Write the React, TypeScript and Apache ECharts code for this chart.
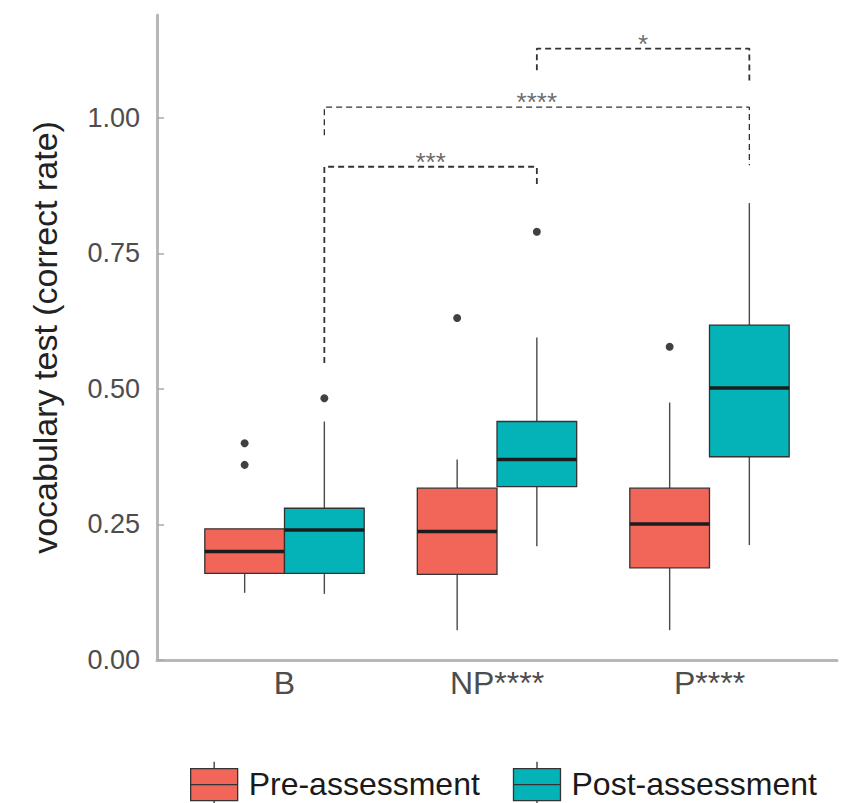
import React, { useEffect, useRef } from 'react';
import * as echarts from 'echarts';

const categories = ['B', 'NP****', 'P****'];
const seriesNames = ['Pre-assessment', 'Post-assessment'];
// [low whisker, Q1, median, Q3, high whisker]
const preBoxes = [
  [0.124, 0.16, 0.2, 0.242, 0.242],
  [0.055, 0.158, 0.237, 0.317, 0.37],
  [0.055, 0.17, 0.251, 0.317, 0.475],
];
const postBoxes = [
  [0.122, 0.16, 0.24, 0.28, 0.44],
  [0.21, 0.32, 0.37, 0.44, 0.595],
  [0.212, 0.375, 0.502, 0.618, 0.843],
];
// [category index, value]
const preOutliers = [[0, 0.4], [0, 0.36], [1, 0.631], [2, 0.578]];
const postOutliers = [[0, 0.483], [1, 0.79]];
const yTicks = [0, 0.25, 0.5, 0.75, 1];
const xTicks = [1, 2, 3];
// significance brackets between post-assessment boxes
const bracketFrom = [0, 0, 1];
const bracketTo = [1, 2, 2];
const bracketTop = [0.91, 1.02, 1.128];
const bracketLeftEnd = [0.548, 0.968, 1.088];
const bracketRightEnd = [0.871, 0.913, 1.065];
const bracketLabels = ['***', '****', '*'];
const bracketWidths = [1.8, 1.3, 1.8];

const RED = '#F2665A';
const TEAL = '#04B3B8';
const FONT = "'Liberation Sans', Arial, Helvetica, sans-serif";
const DODGE = 0.1875;
const BOXW = 0.375;

const legendIcon =
  'path://M23.5,0L23.5,7M0,7L47,7L47,39L0,39ZM0,23L47,23M23.5,39L23.5,44';

function boxData(stats: number[][], off: number) {
  return stats.map((s, i) => [i + 1 + off, ...s]);
}

function renderBox(params: any, api: any) {
  const x = api.value(0);
  const low = api.coord([x, api.value(1)]);
  const q1 = api.coord([x, api.value(2)]);
  const med = api.coord([x, api.value(3)]);
  const q3 = api.coord([x, api.value(4)]);
  const high = api.coord([x, api.value(5)]);
  const w = api.size([BOXW, 0])[0];
  const fill = api.visual('color');
  const whisker = { stroke: '#4a4a4a', lineWidth: 1.4 };
  return {
    type: 'group',
    children: [
      { type: 'line', shape: { x1: high[0], y1: high[1], x2: q3[0], y2: q3[1] }, style: whisker },
      { type: 'line', shape: { x1: q1[0], y1: q1[1], x2: low[0], y2: low[1] }, style: whisker },
      {
        type: 'rect',
        shape: { x: q3[0] - w / 2, y: q3[1], width: w, height: q1[1] - q3[1] },
        style: { fill, stroke: '#333', lineWidth: 1.3 },
      },
      {
        type: 'line',
        shape: { x1: med[0] - w / 2, y1: med[1], x2: med[0] + w / 2, y2: med[1] },
        style: { stroke: '#1c1c1c', lineWidth: 3.5 },
      },
    ],
  };
}

export default function App() {
  const ref = useRef<HTMLDivElement>(null);
  useEffect(() => {
    document.body.style.margin = '0';
    const chart = echarts.init(ref.current!, null, { renderer: 'svg' });
    const bracketSeries = bracketFrom.map((f, i) => {
      const x1 = f + 1 + DODGE;
      const x2 = bracketTo[i] + 1 + DODGE;
      return {
        type: 'line',
        silent: true,
        symbol: 'none',
        data: [
          [x1, bracketLeftEnd[i]],
          [x1, bracketTop[i]],
          [x2, bracketTop[i]],
          [x2, bracketRightEnd[i]],
        ],
        lineStyle: { color: '#333', width: bracketWidths[i], type: [6, 4] },
        z: 3,
      };
    });
    const bracketLabelData = bracketFrom.map((f, i) => ({
      name: bracketLabels[i],
      value: [(f + 1 + DODGE + bracketTo[i] + 1 + DODGE) / 2, bracketTop[i]],
    }));
    chart.setOption({
      animation: false,
      textStyle: { fontFamily: FONT },
      grid: { left: 157, right: 12, top: 15, bottom: 143, containLabel: false },
      xAxis: {
        type: 'value',
        min: 0.4,
        max: 3.6,
        splitLine: { show: false },
        axisLine: { show: true, lineStyle: { color: '#b8b8b8', width: 3 } },
        axisTick: { show: false },
        axisLabel: {
          customValues: xTicks,
          formatter: (v: number) => categories[Math.round(v) - 1] ?? '',
          fontSize: 32,
          color: '#4d4d4d',
          fontFamily: FONT,
          margin: 7,
        },
      },
      yAxis: {
        type: 'value',
        min: 0,
        max: 1.19,
        splitLine: { show: false },
        axisLine: { show: true, lineStyle: { color: '#b8b8b8', width: 3 } },
        axisTick: {
          show: true,
          inside: true,
          length: 7,
          customValues: yTicks,
          lineStyle: { color: '#aaaaaa', width: 1.5 },
        },
        axisLabel: {
          customValues: yTicks,
          formatter: (v: number) => v.toFixed(2),
          fontSize: 27,
          color: '#4d4d4d',
          fontFamily: FONT,
          margin: 17,
        },
        name: 'vocabulary test (correct rate)',
        nameLocation: 'middle',
        nameRotate: 90,
        nameGap: 95,
        nameTextStyle: { fontSize: 34, color: '#222', fontFamily: FONT },
      },
      legend: {
        left: 190,
        top: 761,
        padding: 0,
        itemGap: 33,
        itemWidth: 47,
        itemHeight: 44,
        textStyle: { fontSize: 32, color: '#1a1a1a', fontFamily: FONT, padding: [0, 0, 0, 6] },
        data: [
          { name: seriesNames[0], icon: legendIcon, itemStyle: { color: RED, borderColor: '#333', borderWidth: 1.3 } },
          { name: seriesNames[1], icon: legendIcon, itemStyle: { color: TEAL, borderColor: '#333', borderWidth: 1.3 } },
        ],
      },
      series: [
        {
          name: seriesNames[0],
          type: 'custom',
          renderItem: renderBox,
          itemStyle: { color: RED },
          encode: { x: 0, y: [1, 2, 3, 4, 5] },
          data: boxData(preBoxes, -DODGE),
          z: 2,
        },
        {
          name: seriesNames[1],
          type: 'custom',
          renderItem: renderBox,
          itemStyle: { color: TEAL },
          encode: { x: 0, y: [1, 2, 3, 4, 5] },
          data: boxData(postBoxes, DODGE),
          z: 2,
        },
        {
          type: 'scatter',
          silent: true,
          symbolSize: 8,
          itemStyle: { color: '#111' },
          data: preOutliers.map((o) => [o[0] + 1 - DODGE, o[1]]),
          z: 4,
        },
        {
          type: 'scatter',
          silent: true,
          symbolSize: 8,
          itemStyle: { color: '#111' },
          data: postOutliers.map((o) => [o[0] + 1 + DODGE, o[1]]),
          z: 4,
        },
        ...bracketSeries,
        {
          type: 'scatter',
          silent: true,
          symbolSize: 0,
          data: bracketLabelData,
          label: {
            show: true,
            position: 'inside',
            offset: [0, -5],
            formatter: '{b}',
            fontSize: 26,
            color: '#444',
            fontFamily: FONT,
          },
          z: 5,
        },
      ],
    });
    return () => chart.dispose();
  }, []);
  return (
    <div
      ref={ref}
      style={{ position: 'absolute', left: 0, top: 0, width: 849, height: 803 }}
    />
  );
}
